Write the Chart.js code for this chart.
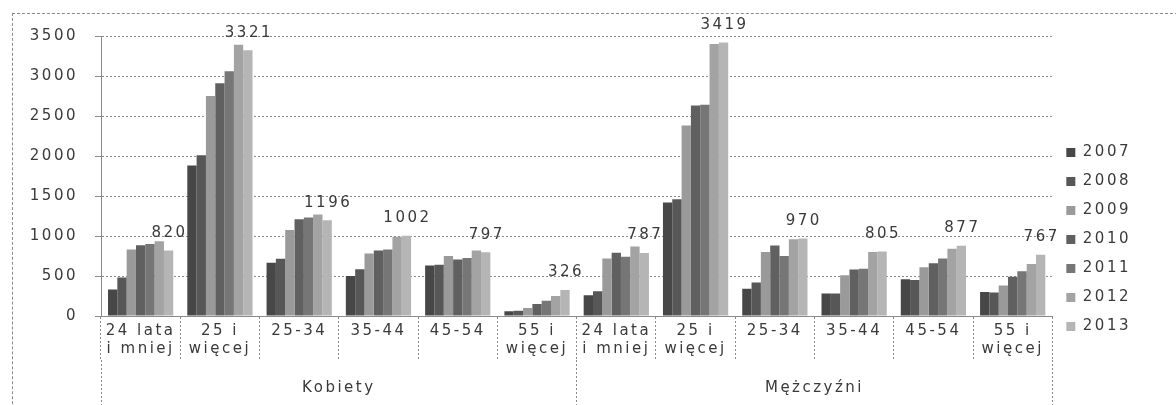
<!DOCTYPE html>
<html lang="pl">
<head>
  <meta charset="UTF-8">
  <title>Bezrobotni wg płci i wieku 2007-2013</title>
  <style>
    body {
      margin: 0;
      background: #fff;
    }
    .chart-box {
      position: relative;
      width: 1176px;
      height: 405px;
    }
    .frame {
      position: absolute;
      left: 12px;
      top: 13px;
      width: 1200px;
      height: 420px;
      border-top: 1px dashed #8a8a8a;
      border-left: 1px dashed #8a8a8a;
      pointer-events: none;
    }
  </style>
</head>
<body>
  <div class="chart-box">
    <canvas id="wykres"></canvas>
    <div class="frame"></div>
  </div>

  <script src="https://cdn.jsdelivr.net/npm/chart.js"></script>
  <script>
    // dane
    const kategorie = [
      ['24 lata', 'i mniej'], ['25 i', 'więcej'], '25-34', '35-44', '45-54', ['55 i', 'więcej'],
      ['24 lata', 'i mniej'], ['25 i', 'więcej'], '25-34', '35-44', '45-54', ['55 i', 'więcej']
    ];
    const grupy = ['Kobiety', 'Mężczyźni'];
    const lata = ['2007', '2008', '2009', '2010', '2011', '2012', '2013'];

    const v2007 = [330, 1880, 665, 500, 630, 60, 260, 1420, 340, 280, 460, 300];
    const v2008 = [480, 2010, 715, 585, 640, 65, 310, 1460, 420, 280, 450, 295];
    const v2009 = [830, 2750, 1075, 780, 750, 100, 720, 2380, 800, 510, 610, 380];
    const v2010 = [885, 2910, 1210, 820, 705, 150, 790, 2630, 880, 580, 660, 490];
    const v2011 = [900, 3060, 1230, 830, 725, 190, 740, 2640, 750, 590, 720, 560];
    const v2012 = [935, 3390, 1270, 990, 820, 250, 870, 3400, 960, 800, 840, 650];
    const v2013 = [820, 3321, 1196, 1002, 797, 326, 787, 3419, 970, 805, 877, 767];

    const yTicks = [0, 500, 1000, 1500, 2000, 2500, 3000, 3500];

    const kolory = ['#474747', '#575757', '#9a9a9a', '#606060', '#767676', '#a3a3a3', '#b5b5b5'];
    const serie = [v2007, v2008, v2009, v2010, v2011, v2012, v2013];

    const ODSTEP = '2.5px';

    // rozstrzelone litery jak na skanie
    const rozstrzelenie = {
      id: 'rozstrzelenie',
      beforeUpdate(chart) { chart.ctx.letterSpacing = ODSTEP; },
      beforeDraw(chart) { chart.ctx.letterSpacing = ODSTEP; }
    };

    // etykiety nad słupkami 2013
    const etykiety = {
      id: 'etykiety',
      afterDatasetsDraw(chart) {
        const ctx = chart.ctx;
        const last = chart.data.datasets.length - 1;
        const meta = chart.getDatasetMeta(last);
        ctx.save();
        ctx.letterSpacing = ODSTEP;
        ctx.font = '15px "DejaVu Sans"';
        ctx.fillStyle = '#3a3a3a';
        ctx.textAlign = 'center';
        ctx.textBaseline = 'bottom';
        meta.data.forEach((bar, i) => {
          ctx.fillText(String(chart.data.datasets[last].data[i]), bar.x + 1, bar.y - 10);
        });
        ctx.restore();
      }
    };

    Chart.defaults.font.family = '"DejaVu Sans"';
    Chart.defaults.font.size = 15;
    Chart.defaults.color = '#3a3a3a';

    const ctx = document.getElementById('wykres').getContext('2d');
    const wykres = new Chart(ctx, {
      type: 'bar',
      data: {
        labels: kategorie,
        datasets: lata.map((rok, i) => ({
          label: rok,
          data: serie[i],
          backgroundColor: kolory[i],
          borderWidth: 0,
          barPercentage: 1,
          categoryPercentage: 0.823
        }))
      },
      options: {
        responsive: true,
        maintainAspectRatio: false,
        animation: false,
        layout: {
          padding: { left: 12, top: 36, right: 35, bottom: 0 }
        },
        plugins: {
          legend: {
            position: 'right',
            title: { display: true, text: ' ', padding: { top: 0, bottom: 20 } },
            labels: {
              boxWidth: 9,
              boxHeight: 9,
              padding: 14,
              color: '#3a3a3a',
              font: { size: 15 }
            }
          },
          tooltip: { enabled: false }
        },
        scales: {
          x: {
            grid: {
              offset: true,
              drawOnChartArea: false,
              tickLength: 44,
              tickColor: '#8a8a8a',
              tickBorderDash: [2, 2]
            },
            border: { color: '#8a8a8a', dash: [2, 2] },
            ticks: {
              padding: -38,
              maxRotation: 0,
              autoSkip: false,
              color: '#3a3a3a',
              font: { size: 15, lineHeight: 1.2 }
            },
            afterFit(scale) { scale.height = 44; }
          },
          x2: {
            type: 'category',
            labels: grupy,
            position: 'bottom',
            offset: true,
            grid: {
              offset: true,
              drawOnChartArea: false,
              tickLength: 45,
              tickColor: '#8a8a8a',
              tickBorderDash: [2, 2]
            },
            border: { display: false },
            ticks: {
              padding: -26,
              maxRotation: 0,
              color: '#3a3a3a',
              font: { size: 15 }
            },
            afterFit(scale) { scale.height = 45; }
          },
          y: {
            min: 0,
            max: 3500,
            afterBuildTicks(scale) {
              scale.ticks = yTicks.map(v => ({ value: v }));
            },
            grid: {
              color: '#8a8a8a',
              tickLength: 6,
              tickColor: '#8a8a8a'
            },
            border: { color: '#8a8a8a', dash: [2, 2] },
            ticks: {
              padding: 17,
              color: '#3a3a3a',
              font: { size: 15 },
              callback: v => String(v)
            },
            afterFit(scale) { scale.width = 89; }
          }
        }
      },
      plugins: [rozstrzelenie, etykiety]
    });
  </script>
</body>
</html>
